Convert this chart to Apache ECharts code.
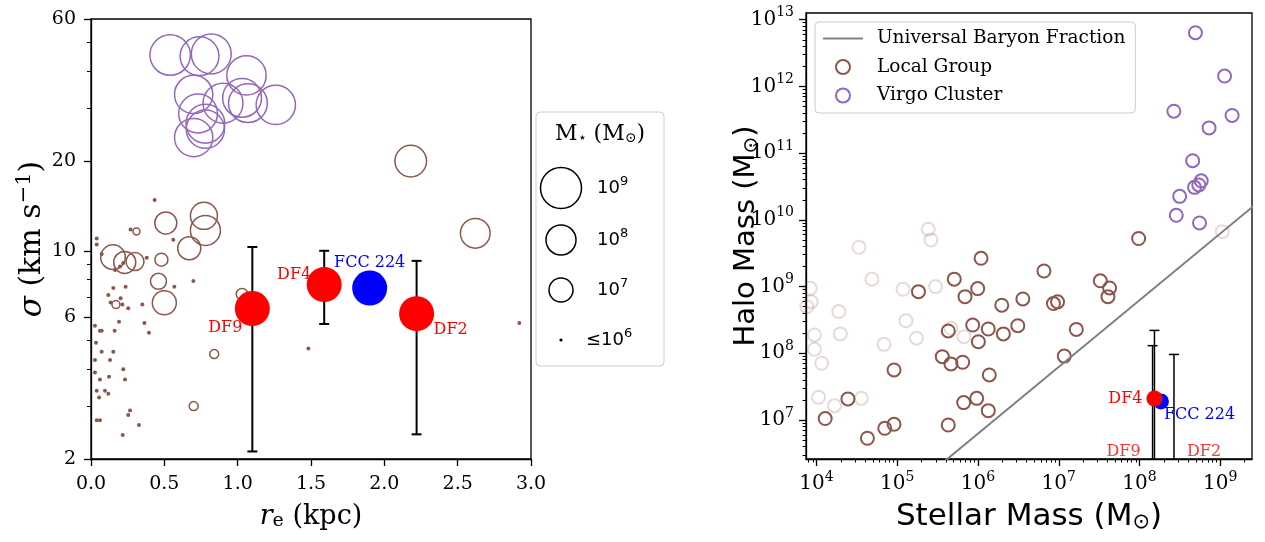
<!DOCTYPE html>
<html><head><meta charset="utf-8">
<script src="https://cdn.jsdelivr.net/npm/echarts@6/dist/echarts.min.js"></script>
<style>html,body{margin:0;padding:0;background:#fff}#c{width:1265px;height:542px}</style>
</head><body><div id="c"></div>
<script>
// ================= LEFT PANEL DATA =================
// Virgo cluster: effective radius (kpc), sigma (km/s), log10 stellar mass
const virgoRe    = [0.54, 0.74, 0.82, 1.06, 0.70, 0.90, 1.03, 1.07, 1.26, 0.73, 0.78, 0.78, 0.70];
const virgoSigma = [45.4, 45.0, 45.8, 38.8, 33.5, 31.3, 32.6, 31.3, 30.9, 28.9, 26.7, 25.6, 24.0];
const virgoLogM  = [8.95, 8.8, 8.9, 8.85, 8.75, 8.9, 8.8, 8.8, 8.85, 8.8, 8.8, 8.75, 8.75];
// Local Group (M* > 1e6)
const lgRe    = [2.18, 2.62, 0.77, 0.78, 0.51, 0.67, 0.15, 0.23, 0.30, 0.48, 0.46, 0.50, 1.03, 0.17, 0.31, 0.84, 0.70];
const lgSigma = [20.0, 11.45, 13.1, 11.7, 12.4, 10.2, 9.52, 9.14, 9.2, 9.34, 7.9, 6.69, 7.15, 6.6, 11.6, 4.5, 3.01];
const lgLogM  = [8.15, 7.95, 7.5, 8.0, 6.9, 6.95, 7.1, 6.9, 6.7, 6.45, 6.6, 7.0, 6.38, 6.2, 6.15, 6.25, 6.25];
// Local Group (M* <= 1e6)
const lgDotRe    = [0.434,0.270,0.039,0.039,0.561,0.380,0.073,0.164,0.220,0.198,0.568,0.698,0.152,0.236,0.118,0.202,0.134,0.214,0.254,0.350,0.027,0.061,0.073,0.161,0.191,0.364,0.395,0.034,0.073,0.152,0.027,0.130,0.027,0.220,0.061,0.123,0.232,0.039,0.095,0.118,0.055,0.266,0.254,0.039,0.061,0.327,0.216,1.482,2.92];
const lgDotSigma = [14.8,11.8,11.0,10.5,10.9,9.48,9.76,8.62,9.1,8.85,7.58,7.92,7.5,7.58,7.1,6.93,6.7,6.6,6.41,6.6,5.6,5.39,5.39,5.39,5.78,5.72,5.31,4.91,4.58,4.58,4.30,4.30,3.90,4.0,3.70,3.78,3.70,3.39,3.39,3.31,3.22,2.91,2.81,2.70,2.70,2.60,2.41,4.70,5.72];
// Dragonfly galaxies
const dfNames     = ['DF9', 'DF4', 'DF2'];
const dfRe        = [1.10, 1.59, 2.22];
const dfSigma     = [6.4, 7.7, 6.15];
const dfSigmaLow  = [2.12, 5.68, 2.42];
const dfSigmaHigh = [10.3, 10.0, 9.25];
const fccName = 'FCC 224';
const fccRe = 1.90, fccSigma = 7.5;
// axis ticks
const sigmaTicks      = [2, 6, 10, 20, 60];
const sigmaMinorTicks = [3, 4, 5, 7, 8, 9, 30, 40, 50];
const sizeLegendLogM  = [9, 8, 7, 6];
const sizeLegendText  = ['{b|10}{s|9}', '{b|10}{s|8}', '{b|10}{s|7}', '{b|≤10}{s|6}'];

// ================= RIGHT PANEL DATA =================
const lgMstar = [1.09e6,5.08e5,9.91e5,6.90e5,1.83e5,1.97e6,3.59e6,6.55e6,8.59e6,9.66e6,4.28e5,8.59e5,1.34e6,2.06e6,3.11e6,1.01e6,3.61e5,4.62e5,6.46e5,1.38e6,9.12e4,2.45e4,1.28e4,4.27e4,7.0e4,9.12e4,4.28e5,6.64e5,9.64e5,1.34e6,9.75e7,3.27e7,4.26e7,4.06e7,1.65e7,1.17e7];
const lgMhalo = [2.65e9,1.29e9,9.31e8,7.06e8,8.39e8,5.25e8,6.52e8,1.71e9,5.56e8,5.90e8,2.16e8,2.65e8,2.31e8,1.95e8,2.59e8,1.49e8,8.89e7,6.92e7,7.33e7,4.73e7,5.62e7,2.07e7,1.05e7,5.32e6,7.5e6,8.61e6,8.41e6,1.82e7,2.11e7,1.38e7,5.25e9,1.22e9,9.53e8,7.06e8,2.28e8,9.06e7];
const lgFaintMstar = [2.42e5,2.61e5,3.36e4,4.86e4,1.18e5,2.98e5,8.36e3,8.59e3,7.6e3,1.89e4,1.28e5,9.44e3,1.97e4,9.44e3,6.85e4,1.73e5,1.16e4,4.62e5,6.70e5,1.06e4,1.67e4,3.59e4,1.06e9];
const lgFaintMhalo = [7.23e9,5.0e9,3.88e9,1.29e9,9.1e8,9.98e8,9.42e8,5.94e8,5.0e8,4.21e8,3.08e8,1.88e8,1.95e8,1.15e8,1.36e8,1.68e8,7.08e7,2.37e8,1.77e8,2.19e7,1.64e7,2.11e7,6.65e9];
const virgoMstar = [4.92e8,1.13e9,2.66e8,1.40e9,7.26e8,4.55e8,3.14e8,2.85e8,5.53e8,4.79e8,5.81e8,5.42e8];
const virgoMhalo = [6.38e12,1.43e12,4.25e11,3.67e11,2.39e11,7.69e10,2.25e10,1.17e10,8.97e9,3.07e10,3.85e10,3.33e10];
const baryonFraction = 0.16;
const baryonLineMstar = [1e3, 1e10];
const dfMstar      = [1.45e8, 1.53e8, 2.67e8];
const dfMhalo      = [null, 2.1e7, null];
const dfMhaloLow   = [1e6, 1e6, 1e6];
const dfMhaloHigh  = [1.3e8, 2.2e8, 9.6e7];
const fccMstar = 1.84e8, fccMhalo = 1.9e7;
const dfLimitLabelHalo = 3.3e6;
const stellarTicks = [1e4, 1e5, 1e6, 1e7, 1e8, 1e9];
const haloTicks    = [1e7, 1e8, 1e9, 1e10, 1e11, 1e12, 1e13];
function minorLogTicks(e0, e1) { const t = []; for (let e = e0; e <= e1; e++) for (let k = 2; k <= 9; k++) t.push(k * Math.pow(10, e)); return t; }
const stellarMinorTicks = minorLogTicks(3, 9);
const haloMinorTicks    = minorLogTicks(6, 12);

// ================= STYLE =================
const BROWN = '#8c564b', PURPLE = '#9467bd', FAINT = 'rgba(140,86,75,0.22)';
const SERIF = 'DejaVu Serif', SANS = 'DejaVu Sans';
const SIZE_ANCHORS = [[6, 4], [7, 24], [8, 30], [9, 41]];
function sizeOfLogM(m) {
  const a = SIZE_ANCHORS;
  if (m <= a[0][0]) return a[0][1];
  for (let i = 1; i < a.length; i++) if (m <= a[i][0]) { const t = (m - a[i-1][0]) / (a[i][0] - a[i-1][0]); return a[i-1][1] + t * (a[i][1] - a[i-1][1]); }
  const l = a.length - 1; return a[l][1] + (m - a[l][0]) * (a[l][1] - a[l-1][1]);
}
const zip = (...arrs) => arrs[0].map((_, i) => arrs.map(a => a[i]));

const axisLineStyle = { color: '#000', width: 1.3 };
function baseAxis(extra) {
  return Object.assign({
    axisLine: { show: true, onZero: false, lineStyle: axisLineStyle },
    axisTick: { show: true, inside: false, length: 7, lineStyle: axisLineStyle },
    splitLine: { show: false },
    nameMoveOverlap: false
  }, extra);
}
function minorAxis(extra) {
  return Object.assign({
    axisLine: { show: false, onZero: false },
    axisLabel: { show: false },
    splitLine: { show: false },
    axisTick: { show: true, inside: false, length: 3.5, lineStyle: { color: '#000', width: 1 } }
  }, extra);
}
const tickFont = { color: '#000', fontFamily: SERIF, fontSize: 19 };
const powRich = {
  b: { fontFamily: SERIF, fontSize: 20, color: '#000' },
  s: { fontFamily: SERIF, fontSize: 14, color: '#000', padding: [0, 0, 14, 0] }
};
const powFmt = v => '{b|10}{s|' + Math.round(Math.log10(v)) + '}';

function errorBar(capHalf, lw) {
  return function (params, api) {
    const cs = params.coordSys;
    const x = api.value(0), lo = api.value(1), hi = api.value(2);
    const pHi = api.coord([x, hi]), pLo = api.coord([x, lo]);
    const top = cs.y, bottom = cs.y + cs.height;
    const clamp = v => Math.max(top, Math.min(bottom, v));
    const ch = [{ type: 'line', shape: { x1: pHi[0], y1: clamp(pHi[1]), x2: pHi[0], y2: clamp(pLo[1]) }, style: { stroke: '#000', lineWidth: lw } }];
    [pHi, pLo].forEach(p => {
      if (p[1] >= top && p[1] <= bottom) ch.push({ type: 'line', shape: { x1: p[0] - capHalf, y1: p[1], x2: p[0] + capHalf, y2: p[1] }, style: { stroke: '#000', lineWidth: lw } });
    });
    return { type: 'group', children: ch };
  };
}

const dfLeftLabel = { DF9: { align: 'right', offset: [-10, 19] }, DF4: { align: 'right', offset: [-13, -10] }, DF2: { align: 'left', offset: [17, 16] } };
const dfRightLabel = { DF9: { align: 'right', offset: [-12, 0] }, DF4: { align: 'right', offset: [-12, 0] }, DF2: { align: 'left', offset: [13, 0] } };

// left size legend (graphic)
const LG = { x: 536, y: 112, w: 128, h: 254, cx: 561, rows: [188, 240, 290, 340], tx: [597, 597, 597, 586] };
const legendGraphics = [
  { type: 'rect', shape: { x: LG.x, y: LG.y, width: LG.w, height: LG.h, r: 4 }, style: { fill: 'rgba(255,255,255,0.8)', stroke: '#cccccc', lineWidth: 1 }, z: 10 },
  { type: 'text', x: 600, y: 134, z: 11, style: { text: '{m|M}{sb|⋆}{m| (M}{sb|⊙}{m|)}', align: 'center', verticalAlign: 'middle', textAlign: 'center', textVerticalAlign: 'middle',
      rich: { m: { fontFamily: SERIF, fontSize: 22, fill: '#000' }, sb: { fontFamily: SERIF, fontSize: 14, fill: '#000', padding: [9, 0, 0, 0] } } } }
];
sizeLegendLogM.forEach((m, i) => {
  const r = sizeOfLogM(m) / 2;
  legendGraphics.push({ type: 'circle', z: 11, shape: { cx: LG.cx, cy: LG.rows[i], r: m <= 6 ? 1.6 : r },
    style: m <= 6 ? { fill: '#000' } : { fill: 'none', stroke: '#000', lineWidth: 1.5 } });
  legendGraphics.push({ type: 'text', x: LG.tx[i], y: LG.rows[i], z: 11, style: { text: sizeLegendText[i], align: 'left', verticalAlign: 'middle', textAlign: 'left', textVerticalAlign: 'middle',
    rich: { b: { fontFamily: SANS, fontSize: 18, fill: '#000' }, s: { fontFamily: SANS, fontSize: 13, fill: '#000', padding: [0, 0, 12, 0] } } } });
});

const option = {
  animation: false,
  backgroundColor: '#fff',
  grid: [
    { left: 91, top: 19, width: 440, height: 440, show: true, borderColor: '#000', borderWidth: 1.3, containLabel: false, outerBoundsMode: 'none' },
    { left: 806, top: 13, width: 446, height: 446, show: true, borderColor: '#000', borderWidth: 1.3, containLabel: false, outerBoundsMode: 'none' }
  ],
  xAxis: [
    baseAxis({ gridIndex: 0, type: 'value', position: 'bottom', min: 0, max: 3, interval: 0.5,
      axisLabel: Object.assign({ formatter: v => v.toFixed(1), margin: 16 }, tickFont),
      name: '{i|r}{sb|e}{n| (kpc)}', nameLocation: 'middle', nameGap: 43,
      nameTextStyle: { rich: { i: { fontFamily: SERIF, fontStyle: 'italic', fontSize: 27, color: '#000' }, sb: { fontFamily: SERIF, fontSize: 19, color: '#000', padding: [10, 0, 0, 0] }, n: { fontFamily: SERIF, fontSize: 27, color: '#000' } } } }),
    baseAxis({ gridIndex: 1, type: 'log', logBase: 10, position: 'bottom', min: 7.41e3, max: 2.47e9,
      axisTick: { show: true, inside: false, length: 7, lineStyle: axisLineStyle, customValues: stellarTicks },
      axisLabel: { customValues: stellarTicks, formatter: powFmt, rich: powRich, margin: 11 },
      name: '{n|Stellar Mass (M}{sb|⊙}{n|)}', nameLocation: 'middle', nameGap: 41,
      nameTextStyle: { rich: { n: { fontFamily: SANS, fontSize: 31, color: '#000' }, sb: { fontFamily: SANS, fontSize: 21, color: '#000', padding: [12, 0, 0, 0] } } } }),
    minorAxis({ gridIndex: 1, type: 'log', logBase: 10, position: 'bottom', min: 7.41e3, max: 2.47e9,
      axisTick: { show: true, inside: false, length: 3.5, lineStyle: { color: '#000', width: 1 }, customValues: stellarMinorTicks } })
  ],
  yAxis: [
    baseAxis({ gridIndex: 0, type: 'log', logBase: 10, position: 'left', min: 2, max: 60,
      axisTick: { show: true, inside: false, length: 7, lineStyle: axisLineStyle, customValues: sigmaTicks },
      axisLabel: Object.assign({ customValues: sigmaTicks, formatter: v => String(Math.round(v)), margin: 15 }, tickFont),
      name: '{i|σ}{n| (km s}{sp|−1}{n|)}', nameLocation: 'middle', nameGap: 40,
      nameTextStyle: { rich: { i: { fontFamily: SERIF, fontStyle: 'italic', fontSize: 31, color: '#000' }, n: { fontFamily: SERIF, fontSize: 30, color: '#000' }, sp: { fontFamily: SERIF, fontSize: 21, color: '#000', padding: [0, 0, 16, 0] } } } }),
    minorAxis({ gridIndex: 0, type: 'log', logBase: 10, position: 'left', min: 2, max: 60,
      axisTick: { show: true, inside: false, length: 4, lineStyle: { color: '#000', width: 1 }, customValues: sigmaMinorTicks } }),
    baseAxis({ gridIndex: 1, type: 'log', logBase: 10, position: 'left', min: 2.6e6, max: 1.26e13,
      axisTick: { show: true, inside: false, length: 7, lineStyle: axisLineStyle, customValues: haloTicks },
      axisLabel: { customValues: haloTicks, formatter: powFmt, rich: powRich, margin: 12 },
      name: '{n|Halo Mass (M}{sb|⊙}{n|)}', nameLocation: 'middle', nameGap: 44,
      nameTextStyle: { rich: { n: { fontFamily: SANS, fontSize: 29, color: '#000' }, sb: { fontFamily: SANS, fontSize: 20, color: '#000', padding: [12, 0, 0, 0] } } } }),
    minorAxis({ gridIndex: 1, type: 'log', logBase: 10, position: 'left', min: 2.6e6, max: 1.26e13,
      axisTick: { show: true, inside: false, length: 3.5, lineStyle: { color: '#000', width: 1 }, customValues: haloMinorTicks } })
  ],
  legend: {
    show: true, orient: 'vertical', left: 815, top: 22,
    padding: [7, 10, 8, 7], itemGap: 9.5, itemWidth: 40, itemHeight: 14,
    backgroundColor: 'rgba(255,255,255,0.8)', borderColor: '#cccccc', borderWidth: 1, borderRadius: 4,
    textStyle: { fontFamily: SERIF, fontSize: 18.5, color: '#000', padding: [0, 0, 0, 9] },
    selectedMode: false,
    data: [
      { name: 'Universal Baryon Fraction', itemStyle: { opacity: 0 } },
      { name: 'Local Group', icon: 'circle', itemStyle: { color: 'rgba(0,0,0,0)', borderColor: BROWN, borderWidth: 2 } },
      { name: 'Virgo Cluster', icon: 'circle', itemStyle: { color: 'rgba(0,0,0,0)', borderColor: PURPLE, borderWidth: 2 } }
    ]
  },
  graphic: { elements: legendGraphics },
  series: [
    // ---- left panel
    { type: 'scatter', name: 'Virgo (size)', xAxisIndex: 0, yAxisIndex: 0, silent: true,
      data: zip(virgoRe, virgoSigma, virgoLogM), symbolSize: v => sizeOfLogM(v[2]),
      itemStyle: { color: 'rgba(0,0,0,0)', borderColor: PURPLE, borderWidth: 1.5, opacity: 1 } },
    { type: 'scatter', name: 'LG (size)', xAxisIndex: 0, yAxisIndex: 0, silent: true,
      data: zip(lgRe, lgSigma, lgLogM), symbolSize: v => sizeOfLogM(v[2]),
      itemStyle: { color: 'rgba(0,0,0,0)', borderColor: BROWN, borderWidth: 1.5, opacity: 1 } },
    { type: 'scatter', name: 'LG dots', xAxisIndex: 0, yAxisIndex: 0, silent: true,
      data: zip(lgDotRe, lgDotSigma), symbolSize: sizeOfLogM(6), itemStyle: { color: BROWN, opacity: 1 } },
    { type: 'custom', name: 'DF err left', xAxisIndex: 0, yAxisIndex: 0, silent: true,
      data: zip(dfRe, dfSigmaLow, dfSigmaHigh), encode: { x: 0, y: [1, 2] }, renderItem: errorBar(5, 2) },
    { type: 'scatter', name: 'FCC left', xAxisIndex: 0, yAxisIndex: 0, silent: true,
      data: [{ name: fccName, value: [fccRe, fccSigma] }], symbolSize: 35, itemStyle: { color: '#0000ff', opacity: 1 },
      label: { show: true, position: 'inside', formatter: '{b}', offset: [0, -25], fontFamily: SERIF, fontSize: 16, color: '#0000ff' } },
    { type: 'scatter', name: 'DF left', xAxisIndex: 0, yAxisIndex: 0, silent: true,
      data: dfNames.map((n, i) => ({ name: n, value: [dfRe[i], dfSigma[i]], label: Object.assign({ show: true, position: 'inside', formatter: '{b}' }, dfLeftLabel[n]) })),
      symbolSize: 35, itemStyle: { color: '#ff0000', opacity: 1 },
      label: { fontFamily: SERIF, fontSize: 16, color: '#ff0000' } },
    // ---- right panel
    { type: 'scatter', name: 'Local Group (faint)', xAxisIndex: 1, yAxisIndex: 2, silent: true,
      data: zip(lgFaintMstar, lgFaintMhalo), symbolSize: 13,
      itemStyle: { color: 'rgba(0,0,0,0)', borderColor: FAINT, borderWidth: 2, opacity: 1 } },
    { type: 'scatter', name: 'Local Group', xAxisIndex: 1, yAxisIndex: 2, silent: true,
      data: zip(lgMstar, lgMhalo), symbolSize: 13,
      itemStyle: { color: 'rgba(0,0,0,0)', borderColor: BROWN, borderWidth: 2, opacity: 1 } },
    { type: 'scatter', name: 'Virgo Cluster', xAxisIndex: 1, yAxisIndex: 2, silent: true,
      data: zip(virgoMstar, virgoMhalo), symbolSize: 13,
      itemStyle: { color: 'rgba(0,0,0,0)', borderColor: PURPLE, borderWidth: 2, opacity: 1 } },
    { type: 'line', name: 'Universal Baryon Fraction', xAxisIndex: 1, yAxisIndex: 2, silent: true,
      data: baryonLineMstar.map(m => [m, m / baryonFraction]), symbol: 'none', showSymbol: false, clip: true,
      lineStyle: { color: '#808080', width: 2 }, itemStyle: { color: '#808080' } },
    { type: 'custom', name: 'DF err right', xAxisIndex: 1, yAxisIndex: 2, silent: true,
      data: zip(dfMstar, dfMhaloLow, dfMhaloHigh), encode: { x: 0, y: [1, 2] }, renderItem: errorBar(5, 1.5) },
    { type: 'scatter', name: 'FCC right', xAxisIndex: 1, yAxisIndex: 2, silent: true,
      data: [{ name: fccName, value: [fccMstar, fccMhalo] }], symbolSize: 16, itemStyle: { color: '#0000ff', opacity: 1 },
      label: { show: true, position: 'inside', formatter: '{b}', align: 'left', offset: [3, 13], fontFamily: SERIF, fontSize: 16, color: '#0000ff' } },
    { type: 'scatter', name: 'DF right', xAxisIndex: 1, yAxisIndex: 2, silent: true,
      data: dfNames.map((n, i) => dfMhalo[i] == null ? null : ({ name: n, value: [dfMstar[i], dfMhalo[i]], label: Object.assign({ show: true, position: 'inside', formatter: '{b}' }, dfRightLabel[n]) })).filter(d => d),
      symbolSize: 16, itemStyle: { color: '#ff0000', opacity: 1 },
      label: { fontFamily: SERIF, fontSize: 16, color: '#ff0000' } },
    { type: 'scatter', name: 'DF limit labels', xAxisIndex: 1, yAxisIndex: 2, silent: true,
      data: dfNames.map((n, i) => dfMhalo[i] != null ? null : ({ name: n, value: [dfMstar[i], dfLimitLabelHalo], label: Object.assign({ show: true, position: 'inside', formatter: '{b}' }, dfRightLabel[n]) })).filter(d => d),
      symbolSize: 1, itemStyle: { color: 'rgba(0,0,0,0)' },
      label: { fontFamily: SERIF, fontSize: 16, color: '#ff0000' } }
  ]
};
const chart = echarts.init(document.getElementById('c'), null, { renderer: 'canvas' });
chart.setOption(option);
</script>
</body></html>
